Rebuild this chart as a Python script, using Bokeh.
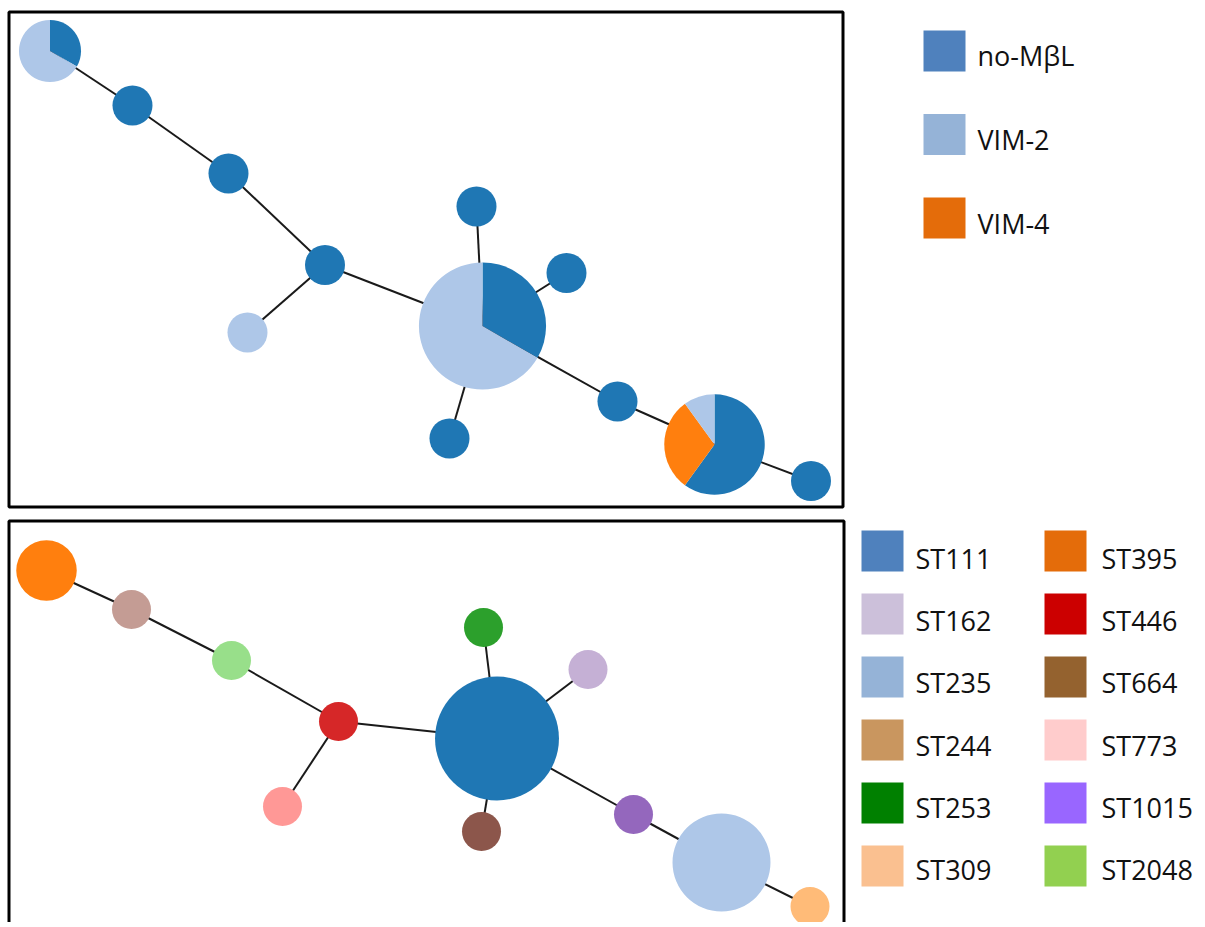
from bokeh.plotting import figure
from bokeh.models import Range1d
from bokeh.embed import file_html
from bokeh.resources import INLINE
from bokeh.core.properties import value

# ---------------- data ----------------
node_ids = ["A", "B", "C", "D", "E", "F", "G", "H", "I", "J", "K", "L"]
edges = [("A", "B"), ("B", "C"), ("C", "D"), ("D", "E"), ("D", "F"),
         ("F", "G"), ("F", "H"), ("F", "I"), ("F", "J"), ("J", "K"), ("K", "L")]

# isolate counts per node for each MBL class (pie order: no-MBL, VIM-4, VIM-2)
mbl_classes = ["no-MβL", "VIM-4", "VIM-2"]
count_nombl = [1, 1, 1, 1, 0, 6, 1, 1, 1, 1, 6, 1]
count_vim4  = [0, 0, 0, 0, 0, 0, 0, 0, 0, 0, 3, 0]
count_vim2  = [2, 0, 0, 0, 1, 12, 0, 0, 0, 0, 1, 0]

# sequence type of each node (bottom panel)
node_st = ["ST395", "ST244", "ST2048", "ST446", "ST773", "ST111",
           "ST253", "ST162", "ST664", "ST1015", "ST235", "ST309"]

# layout coordinates of the network (top panel / bottom panel)
top_x = [49.5, 132, 228, 324.5, 247, 482, 476, 566, 449, 617, 714, 810.5]
top_y = [50.5, 105, 173, 264.5, 332, 325.5, 206, 272.5, 438, 401, 444, 480.5]
bot_x = [46, 131, 231, 338, 282, 496.5, 483, 587.5, 481, 633, 721, 809.5]
bot_y = [570, 609, 660, 721, 806, 738, 627, 669, 831, 814, 862, 906]

# legends
mbl_legend = ["no-MβL", "VIM-2", "VIM-4"]
st_legend_left = ["ST111", "ST162", "ST235", "ST244", "ST253", "ST309"]
st_legend_right = ["ST395", "ST446", "ST664", "ST773", "ST1015", "ST2048"]

# ---------------- styles ----------------
node_mbl_color = {"no-MβL": "#1f77b4", "VIM-4": "#ff7f0e", "VIM-2": "#aec7e8"}
legend_mbl_color = {"no-MβL": "#4F81BD", "VIM-2": "#95B3D7", "VIM-4": "#E46C0A"}
node_st_color = {"ST111": "#1f77b4", "ST162": "#c5b0d5", "ST235": "#aec7e8",
                 "ST244": "#c49c94", "ST253": "#2ca02c", "ST309": "#ffbb78",
                 "ST395": "#ff7f0e", "ST446": "#d62728", "ST664": "#8c564b",
                 "ST773": "#ff9896", "ST1015": "#9467bd", "ST2048": "#98df8a"}
legend_st_color = {"ST111": "#4F81BD", "ST162": "#CCC0DA", "ST235": "#95B3D7",
                   "ST244": "#C9965F", "ST253": "#008000", "ST309": "#FAC090",
                   "ST395": "#E46C0A", "ST446": "#CC0000", "ST664": "#94622F",
                   "ST773": "#FFCCCC", "ST1015": "#9966FF", "ST2048": "#92D050"}
FONT = value("Open Sans")
FSIZE = "27px"

W, H = 1200, 922
p = figure(width=W, height=H, x_range=Range1d(0, W), y_range=Range1d(-H, 0),
           output_backend="svg", toolbar_location=None, min_border=0,
           x_axis_type=None, y_axis_type=None)
p.grid.visible = False
p.outline_line_color = None
p.background_fill_color = "white"
p.border_fill_color = "white"

idx = {n: i for i, n in enumerate(node_ids)}
totals = [a + b + c for a, b, c in zip(count_nombl, count_vim4, count_vim2)]


def radius(n, base):
    return base * n ** 0.4


# ---------- panel frames ----------
p.quad(left=[8.5, 8.5], right=[842.5, 843.5], top=[-11.5, -520.5], bottom=[-506.5, -960],
       fill_color=None, line_color="black", line_width=3)

# ---------- edges ----------
for xs, ys in ((top_x, top_y), (bot_x, bot_y)):
    x0 = [xs[idx[a]] for a, b in edges]
    y0 = [-ys[idx[a]] for a, b in edges]
    x1 = [xs[idx[b]] for a, b in edges]
    y1 = [-ys[idx[b]] for a, b in edges]
    p.segment(x0, y0, x1, y1, line_color="#1a1a1a", line_width=2)

# ---------- top panel: pies ----------
counts = {"no-MβL": count_nombl, "VIM-4": count_vim4, "VIM-2": count_vim2}
for i in range(len(node_ids)):
    tot = totals[i]
    r = radius(tot, 20)
    nonzero = [c for c in mbl_classes if counts[c][i] > 0]
    if len(nonzero) == 1:
        p.circle([top_x[i]], [-top_y[i]], radius=r, fill_color=node_mbl_color[nonzero[0]],
                 line_color=None)
        continue
    acc = 0.0
    for c in mbl_classes:
        v = counts[c][i]
        if v == 0:
            continue
        a0 = acc / tot
        a1 = (acc + v) / tot
        acc += v
        p.wedge([top_x[i]], [-top_y[i]], radius=r,
                start_angle=90 - 360 * a1, end_angle=90 - 360 * a0,
                start_angle_units="deg", end_angle_units="deg",
                fill_color=node_mbl_color[c], line_color=None)

# ---------- bottom panel: nodes by ST ----------
p.circle(bot_x, [-y for y in bot_y], radius=[radius(t, 19.5) for t in totals],
         fill_color=[node_st_color[s] for s in node_st], line_color=None)

# ---------- top legend ----------
for i, lab in enumerate(mbl_legend):
    top = 30 + i * 83.5
    p.quad(left=[923], right=[965], top=[-top], bottom=[-(top + 41)],
           fill_color=legend_mbl_color[lab], line_color=None)
    p.text([977], [-(55 + i * 84)], text=[lab], text_font=FONT, text_font_size=FSIZE,
           text_baseline="middle", text_align="left", text_color="#111111")

# ---------- bottom legend ----------
for col, (labels, sx, tx) in enumerate(((st_legend_left, 861, 915), (st_legend_right, 1044, 1101))):
    for i, lab in enumerate(labels):
        top = 530 + i * 63
        p.quad(left=[sx], right=[sx + 42], top=[-top], bottom=[-(top + 41)],
               fill_color=legend_st_color[lab], line_color=None)
        p.text([tx], [-(558 + i * 62.2)], text=[lab], text_font=FONT, text_font_size=FSIZE,
               text_baseline="middle", text_align="left", text_color="#111111")

open("out.html", "w").write(file_html(p, INLINE))
